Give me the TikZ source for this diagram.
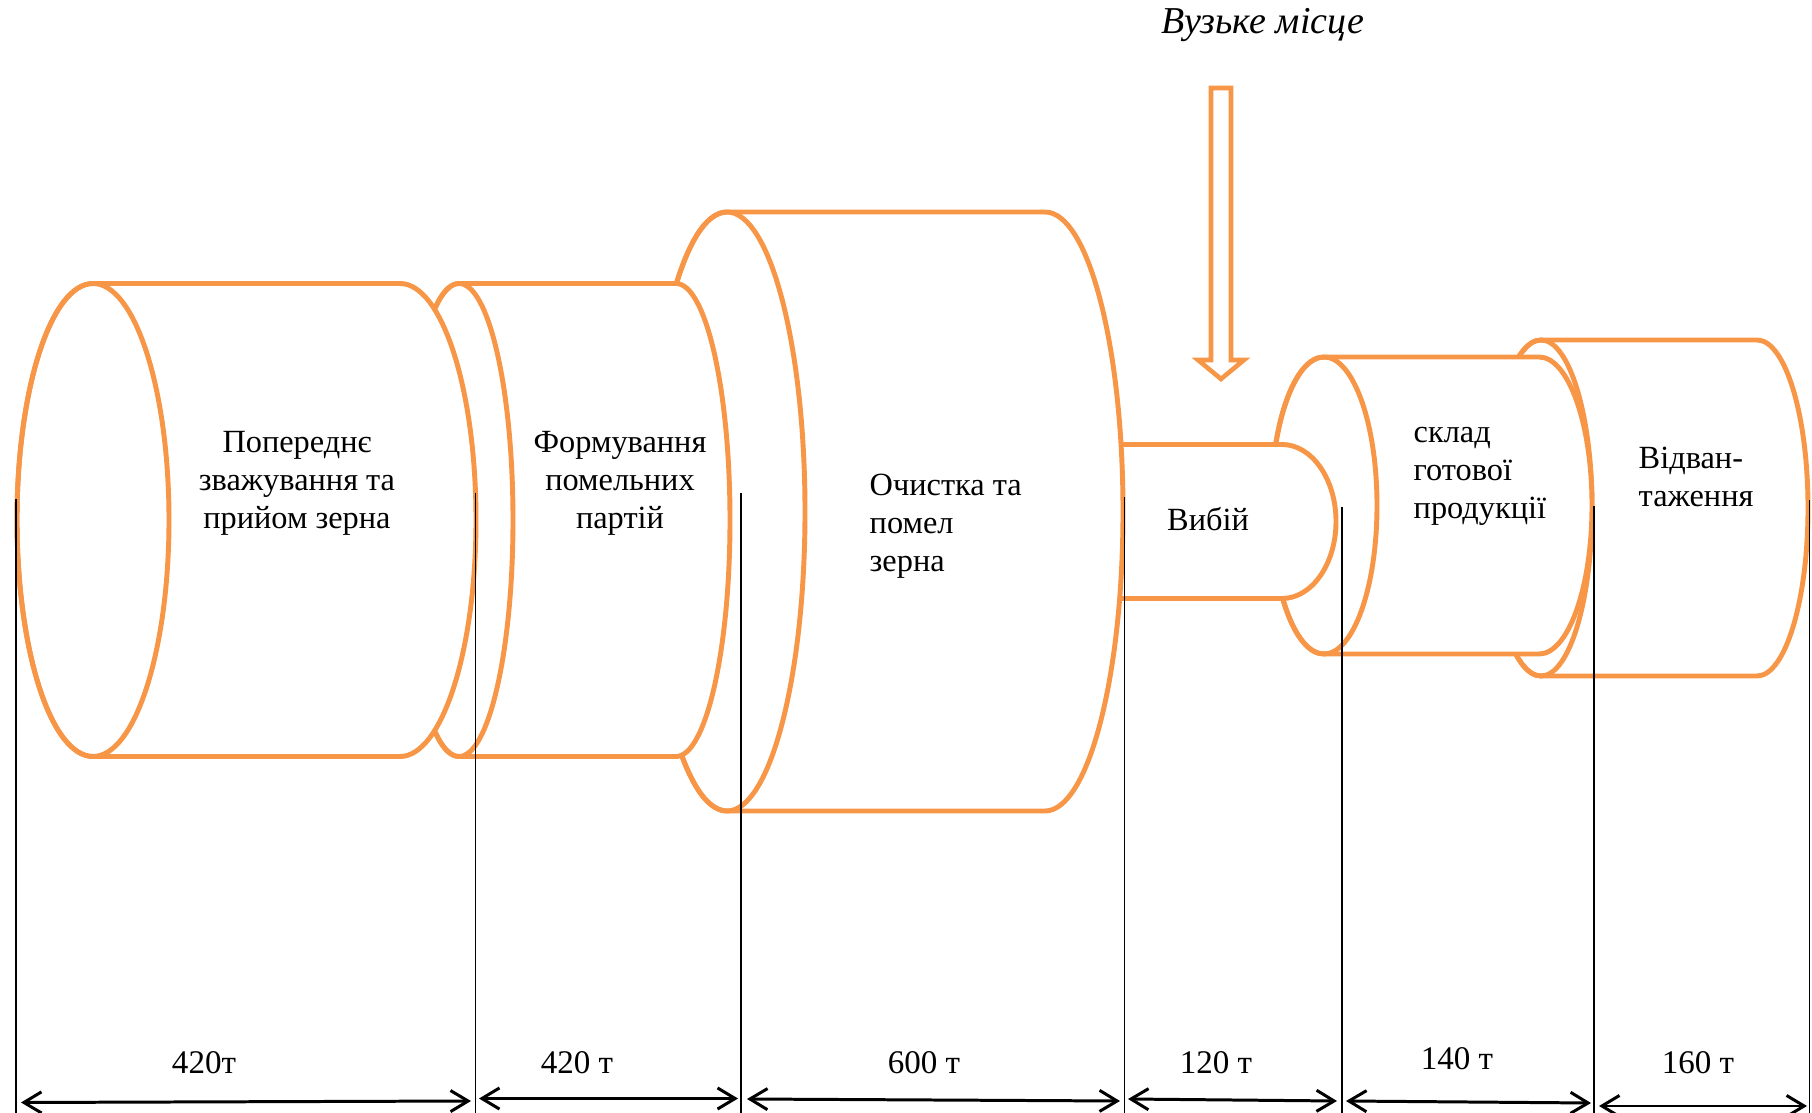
\documentclass[tikz,border=0pt]{standalone}
\usepackage{fontspec}
\setmainfont{Liberation Serif}
\usetikzlibrary{arrows.meta}
\definecolor{cylorange}{HTML}{F79646}

% One processing stage drawn as a horizontal cylinder:
% #1 x of the front face, #2 x of the back face, #3 centre y, #4 x radius, #5 y radius
\newcommand\procdrum[5]{%
  \path[cyl] ({#1},{#3-#5}) -- ({#2},{#3-#5})
    arc[start angle=-90, end angle=90, x radius=#4, y radius=#5]
    -- ({#1},{#3+#5})
    arc[start angle=90, end angle=270, x radius=#4, y radius=#5] -- cycle;
  \draw[cyl, fill=none] ({#1},{#3}) ellipse[x radius=#4, y radius=#5];
}

\begin{document}
\begin{tikzpicture}[x=0.01cm, y=-0.01cm,
  cyl/.style={draw=cylorange, line width=1.4pt, fill=white, line join=round},
  guide/.style={draw=black, line width=0.45pt},
  dim/.style={draw=black, line width=0.85pt,
    {Straight Barb[length=5pt,width=6pt]}-{Straight Barb[length=5pt,width=6pt]}},
  lbl/.style={font=\fontsize{9.2pt}{10.8pt}\selectfont, inner sep=0pt},
  num/.style={font=\fontsize{9.4pt}{10.8pt}\selectfont, inner sep=0pt},
  hollowarrow/.style={draw=cylorange, line width=1.3pt, fill=white, line join=miter}
]
\useasboundingbox (0,0) rectangle (1812,1113);

% stages, back to front
\procdrum{1541}{1757}{508}{51}{168}
\procdrum{1324}{1539}{505.5}{53}{148.5}
\procdrum{1045}{1282}{521.5}{54}{77}
\procdrum{727}{1045}{511.5}{78}{299.5}
\procdrum{459}{676}{520}{54}{236.5}
\procdrum{93}{400}{520}{76}{236.5}

% stage names
\node[lbl, align=center] (s1) at (297,483.5) {Попереднє\\зважування та\\прийом зерна};
\node[lbl, align=center] (s2) at (620,483.5) {Формування\\помельних\\партій};
\node[lbl, align=left, anchor=west] (s3) at (869,526.5) {Очистка та\\помел\\зерна};
\node[lbl] (s4) at (1208,519) {Вибій};
\node[lbl, align=left, anchor=west] (s5) at (1413,476) {склад\\готової\\продукції};
\node[lbl, align=left, anchor=west] (s6) at (1638,477) {Відван-\\таження};

% bottleneck marker
\node[inner sep=0pt, font=\fontsize{10.8pt}{12pt}\selectfont\itshape] (neck) at (1263,25) {Вузьке місце};
\path[hollowarrow] (1211,88) -- (1231,88) -- (1231,360) -- (1244,360)
  -- (1221,379) -- (1198,360) -- (1211,360) -- cycle;

% stage boundaries
\coordinate (v0t) at (16,499);    \coordinate (v0b) at (16,1113);
\coordinate (v1t) at (475.5,493); \coordinate (v1b) at (475.5,1113);
\coordinate (v2t) at (741,493);   \coordinate (v2b) at (741,1113);
\coordinate (v3t) at (1124.5,497);\coordinate (v3b) at (1124.5,1113);
\coordinate (v4t) at (1342,507);  \coordinate (v4b) at (1342,1113);
\coordinate (v5t) at (1594,506);  \coordinate (v5b) at (1594,1113);
\coordinate (v6t) at (1809.5,500);\coordinate (v6b) at (1809.5,1113);
\foreach \i in {0,...,6} \draw[guide] (v\i t) -- (v\i b);

% capacity spans
\coordinate (a1l) at (21,1102.5);  \coordinate (a1r) at (471,1101);
\coordinate (a2l) at (479,1098.5); \coordinate (a2r) at (738,1098.5);
\coordinate (a3l) at (747,1099);   \coordinate (a3r) at (1120,1101);
\coordinate (a4l) at (1128,1099);  \coordinate (a4r) at (1337,1101);
\coordinate (a5l) at (1346,1101);  \coordinate (a5r) at (1591,1103);
\coordinate (a6l) at (1599,1106);  \coordinate (a6r) at (1807,1106);
\foreach \i in {1,...,6} \draw[dim] (a\i l) -- (a\i r);

\node[num] (c1) at (204,1063) {420т};
\node[num] (c2) at (577,1063) {420 т};
\node[num] (c3) at (924,1063) {600 т};
\node[num] (c4) at (1216,1063) {120 т};
\node[num] (c5) at (1457,1059) {140 т};
\node[num] (c6) at (1698,1063) {160 т};
\end{tikzpicture}
\end{document}
